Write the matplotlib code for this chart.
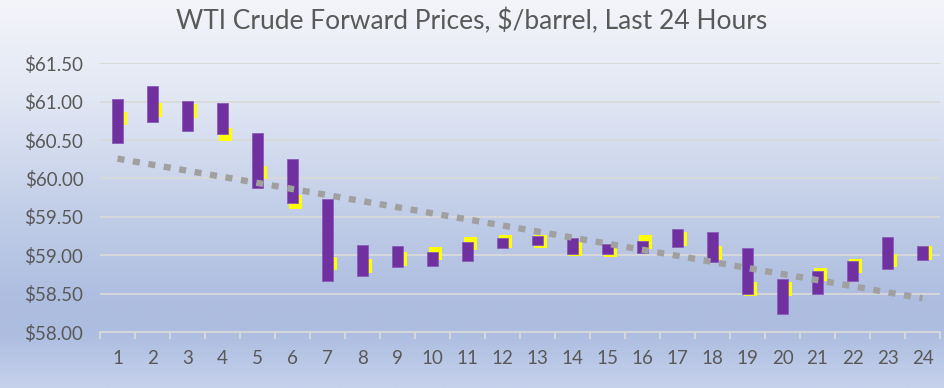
import numpy as np
import matplotlib
matplotlib.use("Agg")
import matplotlib.pyplot as plt
from matplotlib.colors import LinearSegmentedColormap

# ============================================================
#  Data
# ============================================================
hours = list(range(1, 25))
high = [61.03, 61.21, 61.01, 60.98, 60.59, 60.25, 59.73, 59.13, 59.12, 59.04,
        59.17, 59.22, 59.25, 59.22, 59.14, 59.18, 59.34, 59.30, 59.09, 58.69,
        58.79, 58.92, 59.24, 59.12]
low = [60.46, 60.74, 60.62, 60.58, 59.87, 59.68, 58.67, 58.73, 58.85, 58.86,
       58.92, 59.09, 59.13, 59.02, 59.01, 59.03, 59.11, 58.91, 58.49, 58.24,
       58.50, 58.66, 58.82, 58.94]
close = [60.78, 60.89, 60.88, 60.57, 60.08, 59.69, 58.89, 58.86, 58.95, 59.02,
         59.15, 59.18, 59.18, 59.08, 59.06, 59.17, 59.21, 59.03, 58.56, 58.56,
         58.75, 58.86, 58.93, 59.03]
yticks = [58.0, 58.5, 59.0, 59.5, 60.0, 60.5, 61.0, 61.5]
title = "WTI Crude Forward Prices, $/barrel, Last 24 Hours"

x = np.array(hours, dtype=float)
high = np.array(high); low = np.array(low); close = np.array(close)

# linear trendline through closes (like Excel's)
k, b = np.polyfit(x, close, 1)
trend = k * x + b

W, H = 944, 388
fig = plt.figure(figsize=(W / 100, H / 100), dpi=100)

# ============================================================
#  Gradient background
# ============================================================
bg = fig.add_axes([0, 0, 1, 1], zorder=0)
bg.axis("off")
grad_cmap = LinearSegmentedColormap.from_list("bg", [
    (0.00, (244/255, 245/255, 250/255)),
    (0.25, (226/255, 231/255, 244/255)),
    (0.52, (196/255, 208/255, 233/255)),
    (0.78, (173/255, 189/255, 224/255)),
    (0.86, (173/255, 189/255, 224/255)),
    (1.00, (198/255, 209/255, 236/255)),
])
bg.imshow(np.linspace(0, 1, 256).reshape(-1, 1), aspect="auto", cmap=grad_cmap,
          extent=[0, 1, 0, 1], origin="upper")
bg.set_xlim(0, 1); bg.set_ylim(0, 1)

# ============================================================
#  Main chart
# ============================================================
ax = fig.add_axes([100 / W, 1 - 332 / H, 840 / W, (332 - 63.3) / H], zorder=1)
ax.patch.set_alpha(0)

grid_c = "#d9d9d9"
for yv in yticks[1:]:
    ax.axhline(yv, color=grid_c, lw=1.3, zorder=1)

# close markers (yellow squares, partly hidden behind bars)
ax.scatter(x + 0.09, close, marker="s", s=95, color="#ffff00",
           edgecolors="none", zorder=2)
# high-low bars
ax.bar(x, high - low, bottom=low, width=0.31, color="#7030a0",
       edgecolor="#8a5cb8", linewidth=0.6, zorder=3)

# trendline
ax.plot(x, trend, color="#a0a0a0", lw=4.6, ls=(0, (1.1, 1.35)),
        dash_capstyle="butt", zorder=4)

ax.set_xlim(0.5, 24.5)
ax.set_ylim(58.0, 61.5)

for s in ["top", "right", "left"]:
    ax.spines[s].set_visible(False)
ax.spines["bottom"].set_color(grid_c)
ax.spines["bottom"].set_linewidth(1.3)

ax.set_yticks(yticks)
ax.set_yticklabels([f"${v:.2f}" for v in yticks])
ax.tick_params(axis="y", length=0, pad=12, labelsize=13.5, labelcolor="#595959")

ax.set_xticks(x)
ax.set_xticklabels([str(h) for h in hours])
ax.tick_params(axis="x", length=0, pad=13, labelsize=13.5, labelcolor="#595959")
ax.set_xticks(np.arange(0.5, 25, 1), minor=True)
ax.tick_params(axis="x", which="minor", length=5, width=1.3, color=grid_c)

for lab in ax.get_xticklabels() + ax.get_yticklabels():
    lab.set_family("Lato")

fig.text(0.5, 1 - 21 / H, title, ha="center", va="center",
         fontsize=19, color="#595959", family="Lato")

fig.savefig("out.png", dpi=100)
